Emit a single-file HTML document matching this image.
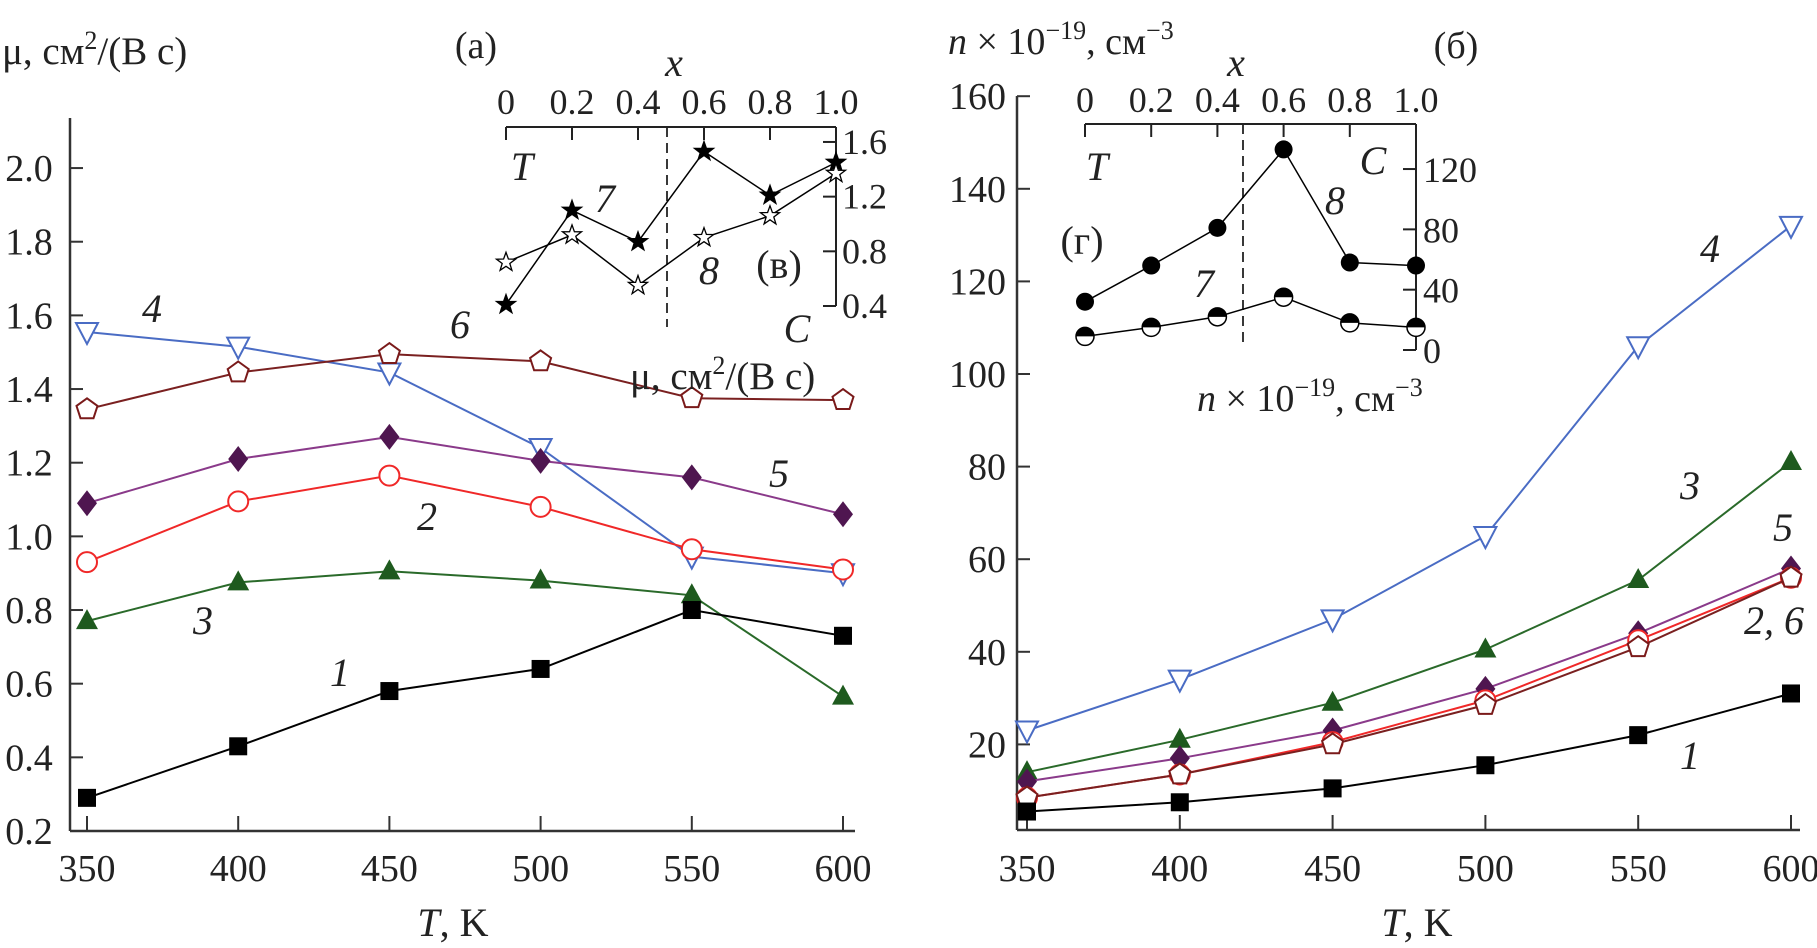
<!DOCTYPE html>
<html><head><meta charset="utf-8"><style>
html,body{margin:0;padding:0;background:#fff}
svg{display:block;font-family:"Liberation Serif","DejaVu Serif",serif}
text{font-family:"Liberation Serif","DejaVu Serif",serif;fill:#222}
</style></head><body>
<svg id="chart" width="1817" height="948" viewBox="0 0 1817 948" xmlns="http://www.w3.org/2000/svg" font-family="Liberation Serif, DejaVu Serif, serif"></svg>
<script>
const temps=[350,400,450,500,550,600];
const muTicks=[0.2,0.4,0.6,0.8,1.0,1.2,1.4,1.6,1.8,2.0];
const mu1=[0.29,0.43,0.58,0.64,0.80,0.73];
const mu2=[0.93,1.095,1.165,1.08,0.965,0.91];
const mu3=[0.77,0.875,0.905,0.88,0.84,0.565];
const mu4=[1.555,1.515,1.445,1.24,0.945,0.90];
const mu5=[1.09,1.21,1.27,1.205,1.16,1.06];
const mu6=[1.345,1.445,1.495,1.475,1.375,1.37];
const nTicks=[20,40,60,80,100,120,140,160];
const n1=[5.5,7.5,10.5,15.5,22,31];
const n2=[8.5,13.5,20.5,29.5,42.5,56];
const n3=[14,21,29,40.5,55.5,81];
const n4=[23,34,47,65,106,132];
const n5=[12,17,23,32,44,58];
const n6=[8.5,13.5,20,28.5,41,56];
const xs=[0,0.2,0.4,0.6,0.8,1.0];
const xTickLabels=["0","0.2","0.4","0.6","0.8","1.0"];
const insetAMuTicks=[0.4,0.8,1.2,1.6];
const insetA7=[0.41,1.10,0.87,1.53,1.21,1.45];
const insetA8=[0.72,0.92,0.55,0.90,1.06,1.37];
const insetNTicks=[0,40,80,120];
const insetB8=[32,56,81,133,58,56];
const insetB7=[9,15,22,35,18,15];

const S=document.getElementById('chart');
const NS='http://www.w3.org/2000/svg';
function mk(tag,attrs,parent){const e=document.createElementNS(NS,tag);for(const k in attrs)e.setAttribute(k,attrs[k]);(parent||S).appendChild(e);return e;}
function txt(x,y,s,size,opts){opts=opts||{};const t=mk('text',{x:x,y:y,'font-size':size,'text-anchor':opts.anchor||'middle','font-family':'Liberation Serif, DejaVu Serif, serif'});if(opts.italic)t.setAttribute('font-style','italic');t.innerHTML=s;return t;}

const L={x:t=>87+(t-350)*(843-87)/250,y:v=>831-(v-0.2)*368.3};
const R={x:t=>1027+(t-350)*(1791-1027)/250,y:v=>837-v*4.63};
const IA={x:v=>506+v*330,y:v=>306-(v-0.4)*136.7};
const IB={x:v=>1085+v*331,y:v=>350-v*1.508};

function marker(g,kind,x,y,color){
  let e;
  if(kind==='square'){e=mk('rect',{x:x-9,y:y-9,width:18,height:18,fill:'#000'},g);}
  else if(kind==='circle'){e=mk('circle',{cx:x,cy:y,r:10,fill:'#fff',stroke:color,'stroke-width':2},g);}
  else if(kind==='tri'){e=mk('polygon',{points:`${x},${y-12} ${x+11},${y+8} ${x-11},${y+8}`,fill:color},g);}
  else if(kind==='tridown'){e=mk('polygon',{points:`${x-11},${y-9} ${x+11},${y-9} ${x},${y+12}`,fill:'#fff',stroke:color,'stroke-width':2},g);}
  else if(kind==='diamond'){e=mk('polygon',{points:`${x},${y-13} ${x+10},${y} ${x},${y+13} ${x-10},${y}`,fill:color},g);}
  else if(kind==='pent'){let p=[];for(let i=0;i<5;i++){const a=-Math.PI/2+i*2*Math.PI/5;p.push((x+11*Math.cos(a)).toFixed(1)+','+(y+11*Math.sin(a)).toFixed(1));}e=mk('polygon',{points:p.join(' '),fill:'#fff',stroke:color,'stroke-width':2},g);}
  else if(kind==='star'||kind==='ostar'){let p=[];for(let i=0;i<10;i++){const a=-Math.PI/2+i*Math.PI/5;const r=i%2?4:10;p.push((x+r*Math.cos(a)).toFixed(1)+','+(y+r*Math.sin(a)).toFixed(1));}e=mk('polygon',{points:p.join(' '),fill:kind==='star'?'#000':'#fff',stroke:'#000','stroke-width':1.3},g);}
  else if(kind==='dot'){e=mk('circle',{cx:x,cy:y,r:9,fill:'#000'},g);}
  else if(kind==='half'){mk('circle',{cx:x,cy:y,r:9,fill:'#fff',stroke:'#000','stroke-width':1.5},g);e=mk('path',{d:`M${x-9},${y} A9,9 0 0 1 ${x+9},${y} Z`,fill:'#000'},g);}
  
  
}
function series(name,sc,xv,yv,kind,color,lc,lw){
  const g=mk('g',{});
  
  
  const pts=xv.map((t,i)=>sc.x(t).toFixed(1)+','+sc.y(yv[i]).toFixed(1)).join(' ');
  const pl=mk('polyline',{points:pts,fill:'none',stroke:lc||color,'stroke-width':lw||2},g);
  
  
  xv.forEach((t,i)=>marker(g,kind,sc.x(t),sc.y(yv[i]),color));
}

// LEFT PANEL
mk('line',{x1:70,y1:118,x2:70,y2:831,stroke:'#333','stroke-width':2.5});
mk('line',{x1:70,y1:831,x2:855,y2:831,stroke:'#333','stroke-width':2.5});
muTicks.forEach(v=>{const y=L.y(v);mk('line',{x1:70,y1:y,x2:83,y2:y,stroke:'#333','stroke-width':2});const t=txt(29,y+13,v.toFixed(1),38);});
temps.forEach(t=>{const x=L.x(t);mk('line',{x1:x,y1:831,x2:x,y2:816,stroke:'#333','stroke-width':2});const e=txt(x,881,String(t),38);});
let e=txt(453,936,'<tspan font-style="italic">T</tspan>, K',40);
e=txt(2,64,'μ, см<tspan dy="-15" font-size="26">2</tspan><tspan dy="15">/(В с)</tspan>',39,{anchor:'start'});
e=txt(476,58,'(а)',38);

series('series-4',L,temps,mu4,'tridown','#4a6cc4');
series('series-6',L,temps,mu6,'pent','#7a1a1a','#7a2020');
series('series-5',L,temps,mu5,'diamond','#4f1650','#8a3a8a');
series('series-2',L,temps,mu2,'circle','#f02828');
series('series-3',L,temps,mu3,'tri','#1e5a1e','#2a6a2a');
series('series-1',L,temps,mu1,'square','#000');

[['4',152,322],['6',460,338],['5',779,487],['2',427,530],['3',203,634],['1',340,686]].forEach(a=>{const t=txt(a[1],a[2],a[0],40,{italic:true});});

// inset (в)
mk('line',{x1:506,y1:127,x2:836,y2:127,stroke:'#222','stroke-width':2});
mk('line',{x1:836,y1:127,x2:836,y2:306,stroke:'#222','stroke-width':2});
xs.forEach((v,i)=>{const x=IA.x(v);mk('line',{x1:x,y1:127,x2:x,y2:140,stroke:'#222','stroke-width':2});const t=txt(x,114,xTickLabels[i],36);});
insetAMuTicks.forEach(v=>{const y=IA.y(v);mk('line',{x1:823,y1:y,x2:836,y2:y,stroke:'#222','stroke-width':2});const t=txt(842,y+12,v.toFixed(1),36,{anchor:'start'});});
mk('line',{x1:667,y1:127,x2:667,y2:327,stroke:'#222','stroke-width':1.8,'stroke-dasharray':'10,6'});
series('inset-a-series-7',IA,xs,insetA7,'star','#000','#000',1.5);
series('inset-a-series-8',IA,xs,insetA8,'ostar','#000','#000',1.5);
[['x',674,76,true],['T',522,180,true],['7',605,212,true],['8',709,284,true],['(в)',779,278,false],['C',797,342,true]].forEach(a=>{const t=txt(a[1],a[2],a[0],40,{italic:a[3]});});
e=txt(630,389,'μ, см<tspan dy="-15" font-size="26">2</tspan><tspan dy="15">/(В с)</tspan>',39,{anchor:'start'});

// RIGHT PANEL
mk('line',{x1:1017,y1:96,x2:1017,y2:830,stroke:'#333','stroke-width':2.5});
mk('line',{x1:1017,y1:830,x2:1800,y2:830,stroke:'#333','stroke-width':2.5});
nTicks.forEach(v=>{const y=R.y(v);mk('line',{x1:1017,y1:y,x2:1030,y2:y,stroke:'#333','stroke-width':2});const t=txt(1006,y+13,String(v),38,{anchor:'end'});});
temps.forEach(t=>{const x=R.x(t);mk('line',{x1:x,y1:830,x2:x,y2:815,stroke:'#333','stroke-width':2});const e=txt(x,881,String(t),38);});
e=txt(1417,936,'<tspan font-style="italic">T</tspan>, K',40);
e=txt(948,54,'<tspan font-style="italic">n</tspan> × 10<tspan dy="-15" font-size="26">−19</tspan><tspan dy="15">, см</tspan><tspan dy="-15" font-size="26">−3</tspan>',38,{anchor:'start'});
e=txt(1456,58,'(б)',38);

series('n-series-4',R,temps,n4,'tridown','#4a6cc4');
series('n-series-3',R,temps,n3,'tri','#1e5a1e','#2a6a2a');
series('n-series-5',R,temps,n5,'diamond','#4f1650','#8a3a8a');
series('n-series-2',R,temps,n2,'circle','#f02828');
series('n-series-6',R,temps,n6,'pent','#7a1a1a','#7a2020');
series('n-series-1',R,temps,n1,'square','#000');
[['4',1710,262],['3',1690,499],['5',1783,541],['2, 6',1774,634],['1',1690,769]].forEach(a=>{const t=txt(a[1],a[2],a[0],40,{italic:true});});

// inset (г)
mk('line',{x1:1085,y1:124,x2:1416,y2:124,stroke:'#222','stroke-width':2});
mk('line',{x1:1416,y1:124,x2:1416,y2:350,stroke:'#222','stroke-width':2});
xs.forEach((v,i)=>{const x=IB.x(v);mk('line',{x1:x,y1:124,x2:x,y2:137,stroke:'#222','stroke-width':2});const t=txt(x,112,xTickLabels[i],36);});
insetNTicks.forEach(v=>{const y=IB.y(v);mk('line',{x1:1403,y1:y,x2:1416,y2:y,stroke:'#222','stroke-width':2});const t=txt(1423,y+13,String(v),36,{anchor:'start'});});
mk('line',{x1:1243,y1:124,x2:1243,y2:345,stroke:'#222','stroke-width':1.8,'stroke-dasharray':'10,6'});
series('inset-b-series-8',IB,xs,insetB8,'dot','#000','#000',1.5);
series('inset-b-series-7',IB,xs,insetB7,'half','#000','#000',1.5);
[['x',1236,76,true],['T',1097,180,true],['C',1373,174,true],['8',1335,214,true],['(г)',1082,254,false],['7',1204,297,true]].forEach(a=>{const t=txt(a[1],a[2],a[0],40,{italic:a[3]});});
e=txt(1197,411,'<tspan font-style="italic">n</tspan> × 10<tspan dy="-15" font-size="26">−19</tspan><tspan dy="15">, см</tspan><tspan dy="-15" font-size="26">−3</tspan>',38,{anchor:'start'});
</script>
</body></html>
